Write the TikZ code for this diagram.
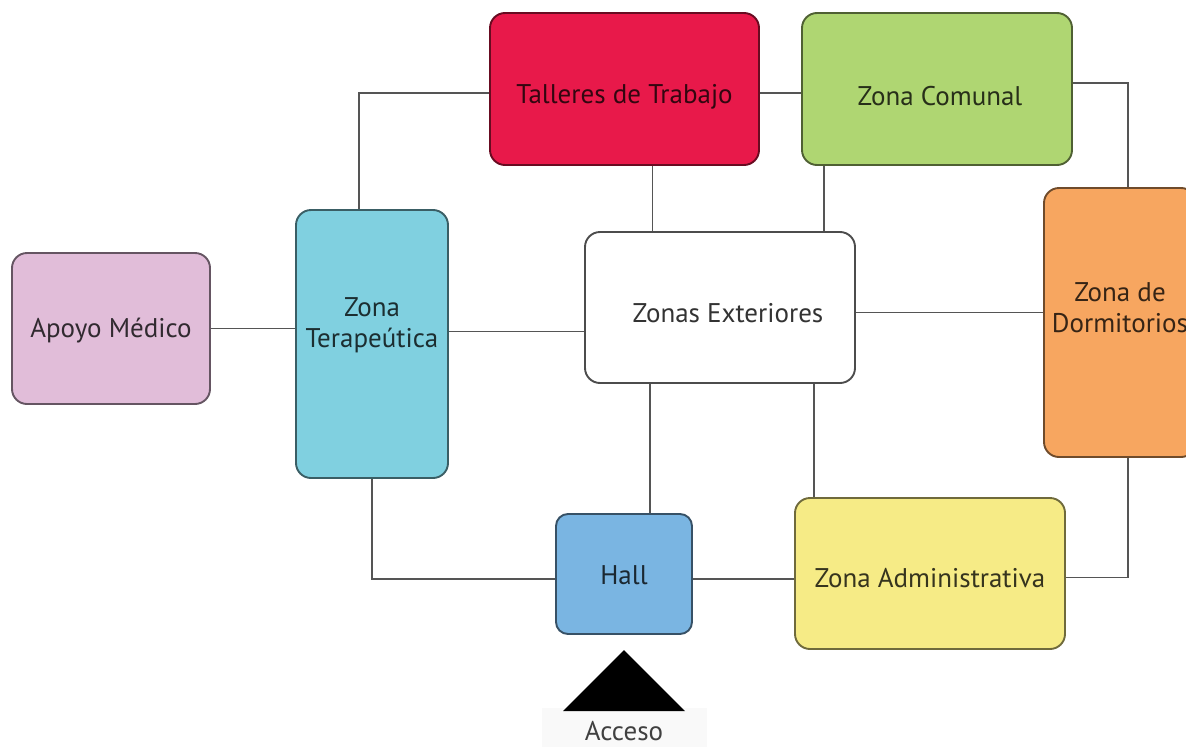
\documentclass[tikz,border=0pt]{standalone}
\usepackage{fontspec}
\setmainfont{PT Sans}
\usepackage{tikz}
\usetikzlibrary{calc}

\definecolor{apoyo}{HTML}{E1BDD9}
\definecolor{terap}{HTML}{80D0E0}
\definecolor{taller}{HTML}{E8194A}
\definecolor{comunal}{HTML}{AFD672}
\definecolor{dormit}{HTML}{F7A660}
\definecolor{hallc}{HTML}{7AB5E2}
\definecolor{admin}{HTML}{F6EB86}
\definecolor{linea}{HTML}{555555}

\begin{document}
\begin{tikzpicture}[x=1pt, y=-1pt,
    zona/.style={draw=#1!45!black, fill=#1, line width=1.9pt, rounded corners=15pt},
    rotulo/.style={text=#1!22!black, align=center, font=\fontsize{27}{31}\selectfont},
    enlace/.style={draw=linea, line width=1.9pt}]
            \useasboundingbox (0, 0) rectangle (1186, 747);
            \clip (0, 0) rectangle (1186, 747);
            \fill[black!2.5] (542, 708) rectangle (707, 747);
            \node[zona=apoyo, minimum width=198pt, minimum height=151pt,
                label={[rotulo=apoyo, yshift=-2pt]center:Apoyo Médico}] (apo) at (111, 328.5) {};
            \node[zona=terap, minimum width=152pt, minimum height=268pt,
                label={[rotulo=terap, yshift=19pt]center:Zona\\Terapeútica}] (ter) at (372, 344) {};
            \node[zona=taller, minimum width=269pt, minimum height=152pt,
                label={[rotulo=taller, yshift=-8pt]center:Talleres de Trabajo}] (tal) at (624.5, 89) {};
            \node[zona=comunal, minimum width=270pt, minimum height=152pt,
                label={[rotulo=comunal, yshift=-7pt, xshift=3pt]center:Zona Comunal}] (com) at (937, 89) {};
            \node[zona=white, draw=black!70, minimum width=270pt, minimum height=151pt,
                label={[rotulo=black!20, text=black!80, yshift=-6pt, xshift=8pt]center:Zonas Exteriores}] (ext) at (720, 307.5) {};
            \node[zona=dormit, minimum width=152pt, minimum height=269pt,
                label={[rotulo=dormit, yshift=15pt]center:Zona de\\Dormitorios}] (dor) at (1120, 322.5) {};
            \node[zona=hallc, rounded corners=12pt, minimum width=136pt, minimum height=120pt,
                label={[rotulo=hallc, yshift=-1pt]center:Hall}] (hall) at (624, 574) {};
            \node[zona=admin, minimum width=270pt, minimum height=151pt,
                label={[rotulo=admin, yshift=-5pt]center:Zona Administrativa}] (adm) at (930, 573.5) {};
            \fill[black] (563, 711) -- (624, 650) -- (685, 711) -- cycle;
            \node[font=\fontsize{27}{31}\selectfont, text=black!75] (acc) at (624, 731) {Acceso};
            \draw[enlace] ([xshift=-13pt]ter.north) |- ([yshift=-4pt]tal.west);
            \draw[enlace] ([yshift=-4pt]tal.east) -- ([yshift=-4pt]tal.east -| com.west);
            \draw[enlace] ([yshift=6pt]com.east) -| ([xshift=8pt]dor.north);
            \draw[enlace] ([xshift=28pt]tal.south) -- ([xshift=28pt]tal.south |- ext.north);
            \draw[enlace] ([xshift=-113pt]com.south) -- ([xshift=-113pt]com.south |- ext.north);
            \draw[enlace] (apo.east) -- (apo.east -| ter.west);
            \draw[enlace] ([yshift=-24pt]ext.west) -- ([yshift=-24pt]ext.west -| ter.east);
            \draw[enlace] ([yshift=-5pt]ext.east) -- ([yshift=-5pt]ext.east -| dor.west);
            \draw[enlace] ([xshift=-70pt]ext.south) -- ([xshift=-70pt]ext.south |- hall.north);
            \draw[enlace] ([xshift=94pt]ext.south) -- ([xshift=94pt]ext.south |- adm.north);
            \draw[enlace] (ter.south) |- ([yshift=-5pt]hall.west);
            \draw[enlace] ([yshift=-5pt]hall.east) -- ([yshift=-5pt]hall.east -| adm.west);
            \draw[enlace] ([yshift=-4pt]adm.east) -| ([xshift=8pt]dor.south);
        \end{tikzpicture}
\end{document}
